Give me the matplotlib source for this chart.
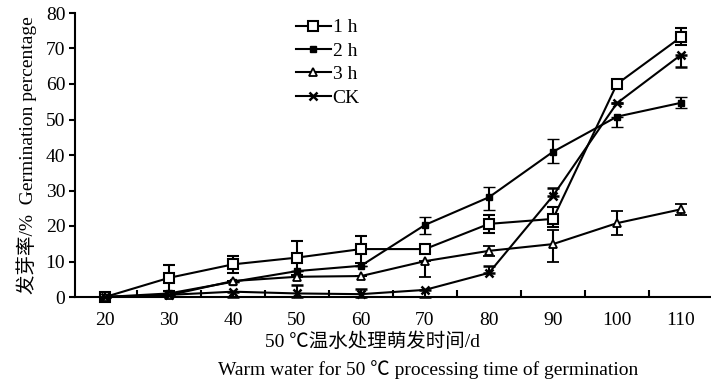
import matplotlib
matplotlib.use("Agg")
import matplotlib.pyplot as plt
from matplotlib.lines import Line2D
import numpy as np

days = ["20", "30", "40", "50", "60", "70", "80", "90", "100", "110"]
labels = ["1 h", "2 h", "3 h", "CK"]

h1 = [0, 5.4, 9.2, 11.1, 13.5, 13.5, 20.6, 22.0, 60.0, 73.2]
h1_up = [0, 3.6, 2.3, 4.8, 3.8, 0, 2.5, 3.3, 0.8, 2.5]
h1_lo = [0, 3.6, 2.3, 4.8, 3.8, 0, 2.5, 2.2, 0.8, 2.2]

h2 = [0, 1.0, 4.3, 7.3, 8.8, 20.3, 28.1, 40.9, 50.8, 54.7]
h2_up = [0, 0, 0, 0, 0, 2.2, 3.0, 3.5, 0, 1.7]
h2_lo = [0, 0, 0, 0, 0, 2.5, 3.6, 3.2, 2.8, 1.5]

h3 = [0, 0.5, 4.5, 5.7, 5.9, 10.1, 13.0, 14.9, 20.8, 24.7]
h3_up = [0, 0, 0, 0, 0, 0, 1.5, 4.0, 3.4, 1.4]
h3_lo = [0, 0, 0, 0, 0, 4.5, 1.5, 5.1, 3.3, 1.6]

ck = [0, 0.6, 1.5, 1.0, 0.8, 2.0, 6.8, 28.5, 54.6, 68.2]
ck_up = [0, 0, 0, 2.5, 1.5, 0, 2.0, 2.1, 0, 0]
ck_lo = [0, 0, 1.5, 1.0, 0.8, 2.0, 0, 0, 0, 3.3]

serif = ["Liberation Serif", "Noto Sans CJK SC", "DejaVu Sans"]
plt.rcParams['font.family'] = serif

fig = plt.figure(figsize=(7.11, 3.82), dpi=100)
ax = fig.add_axes([75/711, (382-297)/382, (711-75)/711, (297-13)/382])

x = np.arange(len(days))
common = dict(color="black", lw=1.5, elinewidth=1.5, capsize=4, capthick=1.5, clip_on=False)
styles = [
    dict(marker="s", ms=7, mfc="white", mec="black", mew=1.5),
    dict(marker="s", ms=4, mfc="black", mec="black", mew=1.0),
    dict(marker="^", ms=6, mfc="white", mec="black", mew=1.3),
    dict(marker="x", ms=6, mec="black", mew=1.8),
]
series = [(h1, h1_lo, h1_up), (h2, h2_lo, h2_up), (h3, h3_lo, h3_up), (ck, ck_lo, ck_up)]
for i, ((v, lo, up), st) in enumerate(zip(series, styles)):
    ax.errorbar(x, v, yerr=[lo, up], zorder=3 + (i == 3), **st, **common)

ax.set_xlim(-0.47, 9.47)
ax.set_ylim(0, 80)
ax.set_yticks(np.arange(0, 81, 10))
ax.tick_params(axis="y", direction="out", length=4, width=1.5, labelsize=14, pad=3)
ax.set_xticks(x)
ax.set_xticklabels(days)
ax.set_xticks(x[:-1] + 0.5, minor=True)
ax.tick_params(axis="x", which="major", length=0, labelsize=14, pad=11)
ax.tick_params(axis="x", which="minor", direction="in", length=5, width=1.5)
for s in ["top", "right"]:
    ax.spines[s].set_visible(False)
for s in ["left", "bottom"]:
    ax.spines[s].set_linewidth(1.5)

ax.set_ylabel("发芽率/%  Germination percentage", fontsize=14, labelpad=6)

fig.text(372/711, 1 - 342/382, "50 ℃温水处理萌发时间/d", ha="center", va="center", fontsize=14)
fig.text(428/711, 1 - 370/382, "Warm water for 50 ℃ processing time of germination",
         ha="center", va="center", fontsize=14)

handles = [Line2D([], [], color="black", lw=1.5, **st) for st in styles]
leg = ax.legend(handles, labels, loc="upper left", bbox_to_anchor=(286/711, 1 - 9/382),
                bbox_transform=fig.transFigure, frameon=False, fontsize=14,
                handlelength=1.8, handletextpad=0.1, labelspacing=0.3, borderpad=0)

fig.savefig("out.png", dpi=100)
